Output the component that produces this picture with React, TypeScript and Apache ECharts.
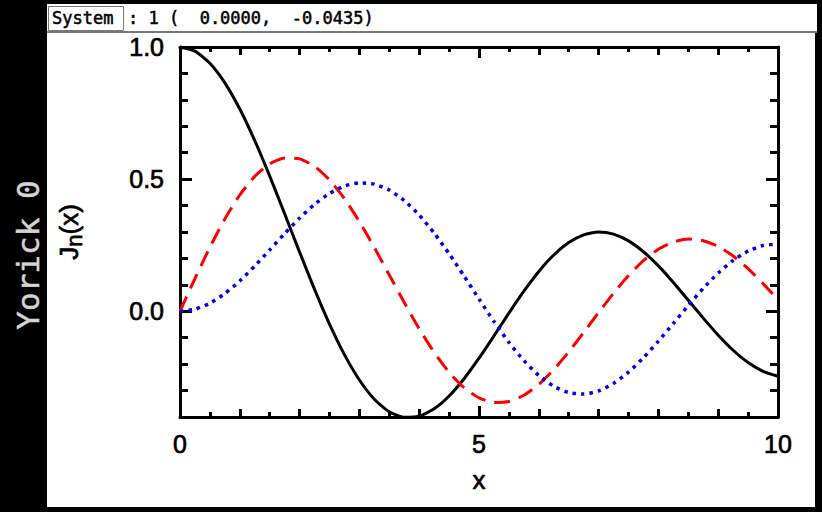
import React, { useEffect, useRef } from "react";
import * as echarts from "echarts";

const xs = [0, 0.25, 0.5, 0.75, 1, 1.25, 1.5, 1.75, 2, 2.25, 2.5, 2.75, 3, 3.25, 3.5, 3.75, 4, 4.25, 4.5, 4.75, 5, 5.25, 5.5, 5.75, 6, 6.25, 6.5, 6.75, 7, 7.25, 7.5, 7.75, 8, 8.25, 8.5, 8.75, 9, 9.25, 9.5, 9.75, 10];
const j0 = [1.0, 0.98438, 0.93847, 0.8642, 0.7652, 0.64588, 0.51183, 0.36903, 0.22389, 0.08278, -0.04838, -0.16409, -0.26005, -0.3327, -0.38013, -0.40135, -0.39715, -0.36916, -0.32054, -0.2551, -0.1776, -0.09309, -0.00684, 0.07595, 0.15065, 0.21305, 0.26009, 0.28941, 0.30008, 0.29196, 0.26634, 0.22521, 0.17165, 0.1092, 0.04194, -0.02594, -0.09033, -0.14738, -0.19393, -0.2273, -0.24594];
const j1 = [0.0, 0.12401, 0.24227, 0.34921, 0.44005, 0.51058, 0.55794, 0.5801, 0.57672, 0.54833, 0.49709, 0.42594, 0.33906, 0.24111, 0.13738, 0.03325, -0.06604, -0.15552, -0.23106, -0.28914, -0.32758, -0.34497, -0.34144, -0.31791, -0.27668, -0.2207, -0.15384, -0.08032, -0.00468, 0.06856, 0.13525, 0.19157, 0.23464, 0.26216, 0.27312, 0.26718, 0.24531, 0.20912, 0.16126, 0.10483, 0.04347];
const j2 = [0.0, 0.00781, 0.0306, 0.0671, 0.1149, 0.17111, 0.23209, 0.294, 0.35283, 0.40467, 0.44606, 0.4739, 0.48609, 0.48109, 0.45863, 0.41909, 0.36413, 0.29598, 0.21785, 0.13336, 0.04657, -0.0384, -0.11743, -0.18659, -0.24287, -0.28368, -0.30743, -0.31322, -0.30142, -0.27305, -0.23027, -0.17577, -0.11299, -0.04563, 0.02235, 0.08702, 0.14485, 0.19261, 0.22789, 0.24881, 0.25463];

const xMajorTicks = [0, 5, 10];
const yMinorTicks = [-0.4, -0.3, -0.2, -0.1, 0, 0.1, 0.2, 0.3, 0.4, 0.5, 0.6, 0.7, 0.8, 0.9, 1.0];
const yMajorTicks = [0, 0.5, 1.0];
const statusLabel = "System";
const statusText = ": 1 (  0.0000,  -0.0435)";
const windowLabel = "Yorick 0";

const zip = (a: number[], b: number[]) => a.map((v, i) => [v, b[i]]);

export default function App() {
  const ref = useRef<HTMLDivElement>(null);
  useEffect(() => {
    if (!ref.current) return;
    const chart = echarts.init(ref.current, undefined, { renderer: "svg" });
    const font = "'Liberation Sans', Arial, sans-serif";
    const mono = "'DejaVu Sans Mono', monospace";
    const heavy = { textBorderColor: "#000", textBorderWidth: 0.7 };
    const baseX = {
      type: "value",
      min: 0,
      max: 10,
      gridIndex: 0,
      splitLine: { show: false },
    };
    const baseY = {
      type: "value",
      min: -0.4,
      max: 1.0,
      gridIndex: 0,
      splitLine: { show: false },
    };
    const lineStyle = { color: "#000", width: 3 };
    const tickStyle = { color: "#000", width: 3 };
    chart.setOption({
      animation: false,
      backgroundColor: "#000",
      grid: { left: 180, top: 47, width: 598, height: 370 },
      xAxis: [
        {
          ...baseX,
          position: "bottom",
          interval: 1,
          axisLine: { show: true, onZero: false, lineStyle },
          axisTick: { show: true, inside: true, length: 8, lineStyle: tickStyle },
          minorTick: { show: true, splitNumber: 2, length: 5, lineStyle: tickStyle },
          axisLabel: { customValues: xMajorTicks, color: "#000", fontFamily: font, fontSize: 25, margin: 14, ...heavy },
          name: "x",
          nameLocation: "middle",
          nameGap: 50,
          nameTextStyle: { color: "#000", fontFamily: font, fontSize: 26, ...heavy },
        },
        {
          ...baseX,
          position: "bottom",
          axisLine: { show: false, onZero: false },
          axisTick: { show: true, inside: true, length: 11, customValues: xMajorTicks, lineStyle: tickStyle },
          axisLabel: { show: false },
        },
        {
          ...baseX,
          position: "top",
          interval: 1,
          axisLine: { show: true, onZero: false, lineStyle },
          axisTick: { show: true, inside: true, length: 8, lineStyle: tickStyle },
          minorTick: { show: true, splitNumber: 2, length: 5, lineStyle: tickStyle },
          axisLabel: { show: false },
        },
        {
          ...baseX,
          position: "top",
          axisLine: { show: false, onZero: false },
          axisTick: { show: true, inside: true, length: 11, customValues: xMajorTicks, lineStyle: tickStyle },
          axisLabel: { show: false },
        },
      ],
      yAxis: [
        {
          ...baseY,
          position: "left",
          axisLine: { show: true, onZero: false, lineStyle },
          axisTick: { show: true, inside: true, length: 8, customValues: yMinorTicks, lineStyle: tickStyle },
          axisLabel: {
            customValues: yMajorTicks,
            formatter: (v: number) => v.toFixed(1),
            color: "#000",
            fontFamily: font,
            fontSize: 25,
            margin: 16,
            ...heavy,
          },
          name: "{a|J}{b|n}{a|(x)}",
          nameLocation: "middle",
          nameGap: 95,
          nameRotate: 90,
          nameTextStyle: {
            color: "#000",
            fontFamily: font,
            fontSize: 26,
            rich: {
              a: { fontFamily: font, fontSize: 26, color: "#000", lineHeight: 32, ...heavy },
              b: { fontFamily: font, fontSize: 22, color: "#000", lineHeight: 24, verticalAlign: "bottom", ...heavy },
            },
          },
        },
        {
          ...baseY,
          position: "left",
          axisLine: { show: false, onZero: false },
          axisTick: { show: true, inside: true, length: 12, customValues: yMajorTicks, lineStyle: tickStyle },
          axisLabel: { show: false },
        },
        {
          ...baseY,
          position: "right",
          axisLine: { show: true, onZero: false, lineStyle },
          axisTick: { show: true, inside: true, length: 8, customValues: yMinorTicks, lineStyle: tickStyle },
          axisLabel: { show: false },
        },
        {
          ...baseY,
          position: "right",
          axisLine: { show: false, onZero: false },
          axisTick: { show: true, inside: true, length: 12, customValues: yMajorTicks, lineStyle: tickStyle },
          axisLabel: { show: false },
        },
      ],
      graphic: [
        { type: "rect", z: -10, shape: { x: 47, y: 4, width: 770, height: 27 }, style: { fill: "#fff" } },
        { type: "rect", z: -10, shape: { x: 47, y: 33, width: 768, height: 474 }, style: { fill: "#fff" } },
        { type: "line", z: -9, shape: { x1: 47, y1: 32, x2: 817, y2: 32 }, style: { stroke: "#777", lineWidth: 2 } },
        { type: "rect", z: -9, shape: { x: 48.5, y: 6.5, width: 75, height: 24 }, style: { fill: "none", stroke: "#777", lineWidth: 1 } },
        { type: "text", z: -8, x: 52, y: 18, style: { text: statusLabel, font: `17px ${mono}`, fill: "#000", stroke: "#000", lineWidth: 0.5, verticalAlign: "middle", align: "left" } },
        { type: "text", z: -8, x: 128, y: 18, style: { text: statusText, font: `17px ${mono}`, fill: "#000", stroke: "#000", lineWidth: 0.5, verticalAlign: "middle", align: "left" } },
        { type: "text", z: -8, x: 28, y: 255, rotation: Math.PI / 2, style: { text: windowLabel, font: `31px ${mono}`, fill: "#d4d4d4", stroke: "#d4d4d4", lineWidth: 0.5, verticalAlign: "middle", align: "center" } },
      ],
      series: [
        {
          type: "line",
          data: zip(xs, j0),
          showSymbol: false,
          smooth: 0.2,
          lineStyle: { color: "#000", width: 3 },
        },
        {
          type: "line",
          data: zip(xs, j1),
          showSymbol: false,
          smooth: 0.2,
          lineStyle: { color: "#f00", width: 3, type: [16, 9], cap: "butt" },
        },
        {
          type: "line",
          data: zip(xs, j2),
          showSymbol: false,
          smooth: 0.2,
          lineStyle: { color: "#0000ee", width: 3.5, type: [3.5, 5], cap: "butt" },
        },
      ],
    });
    return () => chart.dispose();
  }, []);
  return <div ref={ref} style={{ position: "fixed", left: 0, top: 0, width: 822, height: 512 }} />;
}
